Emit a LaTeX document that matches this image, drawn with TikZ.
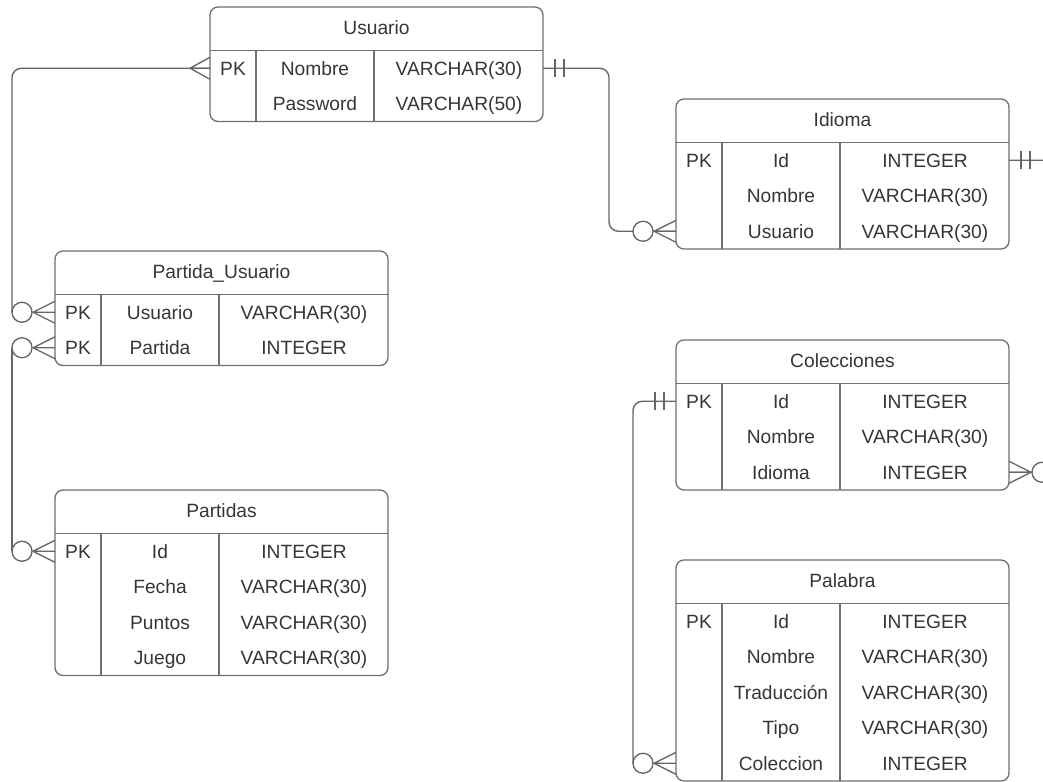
\documentclass[tikz,border=0pt]{standalone}
\usepackage{fontspec}
\setmainfont{Liberation Sans}
\usetikzlibrary{calc}
\definecolor{ERTexto}{HTML}{363636}
\definecolor{ERBorde}{HTML}{707070}
\definecolor{ERLinea}{HTML}{666666}
\tikzset{
    % Table parts
    marco/.style={
        rectangle,
        draw=ERBorde,
        fill=white,
        line width=1pt,
        rounded corners=6pt,
        minimum width=249.75pt,
        inner sep=0pt,
        outer sep=0pt
    },
    rejilla/.style={
        draw=ERBorde,
        line width=1pt
    },
    celda/.style={
        font=\fontsize{14.4}{16}\selectfont,
        text=ERTexto,
        text height=12.3pt,
        text depth=2pt,
        inner sep=0pt
    },
    % Connector styles
    conector/.style={
        draw=ERLinea,
        line width=1pt,
        rounded corners=7pt
    },
    pata/.style={
        draw=ERLinea,
        line width=1pt
    },
    % Crow's foot ends
    muchos/.pic={
        \draw[pata] (0,-11) -- (-20,0) -- (0,11) (0,0) -- (-20,0);
    },
    ceromuchos/.pic={
        \draw[pata] (0,-11) -- (-22,0) -- (0,11) (0,0) -- (-22,0);
        \draw[pata, fill=white] (-33,0) circle (10);
    },
    unosolo/.pic={
        \draw[pata] (-12,-9) -- (-12,9) (-21,-9) -- (-21,9);
    }
}
% #1 name, #2 north west corner, #3 title, #4 number of rows, #5 rows
\newcommand{\tabla}[5]{%
    \pgfmathsetmacro{\alto}{0.75*(43.5+35.5*#4)}
    \node[marco, minimum height=\alto pt, anchor=north west] (#1) at (#2) {};
    \node[celda] (#1-t) at ($(#1.north)+(0,21)$) {#3};
    \draw[rejilla] ($(#1.north west)+(0,43.5)$) -- ($(#1.north east)+(0,43.5)$);
    \draw[rejilla] ($(#1.north west)+(46,43.5)$) -- ($(#1.south west)+(46,0)$);
    \draw[rejilla] ($(#1.north west)+(164,43.5)$) -- ($(#1.south west)+(164,0)$);
    \foreach \k/\c/\t [count=\i] in {#5} {
        \node[celda] at ($(#1.north west)+(23,25.75+35.5*\i)$) {\k};
        \node[celda] (#1-\i) at ($(#1.north west)+(105,25.75+35.5*\i)$) {\c};
        \node[celda] at ($(#1.north west)+(249,25.75+35.5*\i)$) {\t};
    }
}
\begin{document}
\begin{tikzpicture}[x=0.75pt, y=-0.75pt]
    \clip (0,0) rectangle (1043,782);
    \fill[white] (0,0) rectangle (1043,782);

    \tabla{usuario}{210,7}{Usuario}{2}{PK/Nombre/VARCHAR(30), /Password/VARCHAR(50)}
    \tabla{idioma}{676,99}{Idioma}{3}{PK/Id/INTEGER, /Nombre/VARCHAR(30), /Usuario/VARCHAR(30)}
    \tabla{partidausuario}{55,251}{Partida\_Usuario}{2}{PK/Usuario/VARCHAR(30), PK/Partida/INTEGER}
    \tabla{partidas}{55,490}{Partidas}{4}{PK/Id/INTEGER, /Fecha/VARCHAR(30), /Puntos/VARCHAR(30), /Juego/VARCHAR(30)}
    \tabla{colecciones}{676,340}{Colecciones}{3}{PK/Id/INTEGER, /Nombre/VARCHAR(30), /Idioma/INTEGER}
    \tabla{palabra}{676,560}{Palabra}{5}{PK/Id/INTEGER, /Nombre/VARCHAR(30), /Traducción/VARCHAR(30), /Tipo/VARCHAR(30), /Coleccion/INTEGER}

    % relations
    \draw[conector] (usuario.east |- usuario-1) -- ++(66,0) |- (idioma.west |- idioma-3);
    \draw[conector] (usuario.west |- usuario-1) -| ($(partidausuario.west |- partidausuario-1)+(-43,0)$);
    \draw[conector] ($(partidausuario.west |- partidausuario-2)+(-43,0)$) -- ($(partidas.west |- partidas-1)+(-43,0)$);
    \draw[conector] (idioma.east |- idioma-1) -- ++(60,0) |- (colecciones.east |- colecciones-3);
    \draw[conector] (colecciones.west |- colecciones-1) -| ($(palabra.west |- palabra-5)+(-43,0)$);

    \pic at (usuario.west |- usuario-1) {muchos};
    \pic[rotate=180] at (usuario.east |- usuario-1) {unosolo};
    \pic at (idioma.west |- idioma-3) {ceromuchos};
    \pic at (partidausuario.west |- partidausuario-1) {ceromuchos};
    \pic at (partidausuario.west |- partidausuario-2) {ceromuchos};
    \pic at (partidas.west |- partidas-1) {ceromuchos};
    \pic[rotate=180] at (idioma.east |- idioma-1) {unosolo};
    \pic[rotate=180] at (colecciones.east |- colecciones-3) {ceromuchos};
    \pic at (colecciones.west |- colecciones-1) {unosolo};
    \pic at (palabra.west |- palabra-5) {ceromuchos};
\end{tikzpicture}
\end{document}
